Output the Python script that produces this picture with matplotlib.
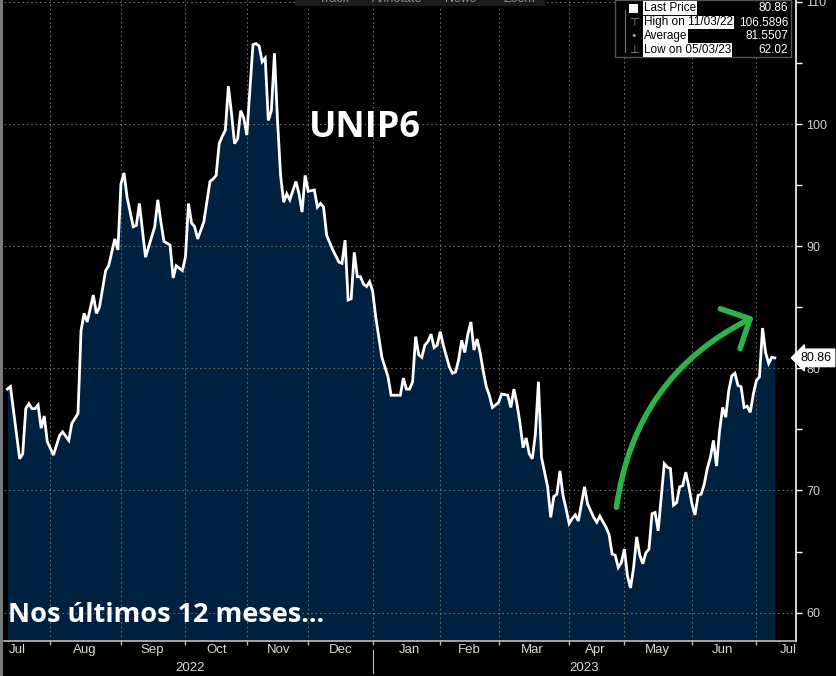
import matplotlib
matplotlib.use('Agg')
import matplotlib.pyplot as plt
from matplotlib.patches import FancyArrowPatch, Rectangle
from matplotlib.lines import Line2D

# UNIP6 daily closes, x = trading-session index (0 = first session shown)
day = [0, 1, 4, 5, 6, 7, 8, 9, 10, 11, 12, 13, 15, 17, 18, 20, 21, 23, 24, 25,
       26, 28, 29, 30, 32, 33, 35, 36, 37, 38, 39, 41, 42, 43, 45, 48, 49, 50,
       51, 53, 54, 55, 56, 57, 58, 59, 60, 61, 62, 64, 66, 67, 68, 69, 70, 71,
       72, 73, 74, 75, 76, 77, 78, 80, 81, 82, 83, 84, 85, 86, 87, 88, 89, 90,
       91, 92, 94, 95, 96, 97, 98, 100, 101, 102, 103, 104, 106, 108, 109, 110,
       111, 112, 113, 114, 115, 116, 117, 118, 119, 120, 122, 124, 125, 126,
       128, 129, 130, 131, 132, 133, 134, 135, 136, 137, 138, 139, 140, 141,
       142, 144, 145, 146, 147, 148, 149, 150, 151, 152, 153, 154, 155, 156,
       157, 158, 160, 161, 163, 164, 165, 166, 167, 168, 169, 170, 171, 172,
       173, 174, 176, 177, 178, 179, 180, 181, 182, 183, 184, 185, 186, 188,
       189, 191, 192, 193, 195, 196, 197, 198, 199, 200, 201, 202, 203, 204,
       205, 206, 207, 208, 209, 210, 211, 212, 213, 214, 215, 216, 217, 218,
       219, 220, 221, 222, 223, 224, 225, 226, 227, 228, 229, 230, 231, 232,
       233, 234, 235, 236, 237, 238, 239, 240, 241, 242, 243, 244, 245, 246,
       247, 248, 249, 250]
price = [78.3, 78.5, 72.6, 73.0, 76.7, 77.1, 76.7, 76.7, 77.0, 75.1, 76.1, 74.0,
         72.9, 74.5, 74.8, 74.1, 75.5, 76.3, 83.1, 84.5, 83.8, 86.0, 84.5, 85.0,
         88.0, 88.4, 90.6, 89.7, 95.1, 96.0, 94.0, 91.6, 91.7, 93.5, 89.1, 91.6,
         93.8, 92.0, 90.4, 90.1, 87.4, 88.4, 88.2, 88.0, 89.1, 93.5, 91.9, 91.6,
         90.6, 92.0, 95.3, 95.5, 95.8, 98.4, 99.0, 99.5, 103.1, 100.9, 98.4, 98.8,
         101.1, 100.5, 99.1, 106.5, 106.59, 106.4, 105.1, 105.4, 100.3, 101.1,
         105.8, 100.3, 95.8, 93.6, 94.3, 93.8, 95.3, 94.3, 92.8, 95.8, 94.5, 94.6,
         93.2, 93.5, 93.2, 90.9, 89.7, 88.7, 88.6, 90.5, 85.6, 85.7, 89.5, 87.5,
         87.5, 86.9, 86.7, 87.1, 86.3, 84.2, 80.9, 79.3, 77.8, 77.8, 77.8, 79.2,
         78.3, 78.3, 78.9, 82.6, 81.1, 80.9, 81.9, 82.2, 82.8, 81.7, 81.9, 83.0,
         81.9, 80.1, 79.6, 79.7, 80.7, 82.3, 81.3, 82.8, 83.8, 81.5, 82.4, 81.3,
         79.8, 78.5, 77.8, 76.8, 77.2, 77.9, 77.8, 76.8, 78.3, 77.1, 75.5, 73.5,
         74.3, 73.0, 72.6, 74.6, 78.9, 72.7, 70.3, 67.8, 69.5, 69.7, 71.6, 69.6,
         68.5, 67.3, 67.7, 68.0, 67.5, 70.3, 68.9, 67.8, 67.4, 67.9, 67.0, 66.4,
         64.8, 64.7, 63.7, 64.1, 65.2, 63.0, 62.02, 63.7, 66.2, 64.7, 64.0, 64.9,
         65.2, 68.1, 68.2, 66.7, 69.5, 72.2, 71.9, 71.8, 68.8, 69.0, 70.3, 70.4,
         71.5, 70.3, 68.9, 68.0, 69.6, 69.7, 70.5, 71.8, 72.7, 74.1, 72.0, 74.9,
         76.8, 76.0, 78.2, 79.4, 79.6, 78.6, 78.5, 76.8, 76.9, 76.4, 77.9, 79.0,
         79.3, 83.3, 81.3, 80.4, 80.9, 80.86]

month_starts = [14, 37, 58, 78, 98, 119, 141, 160, 183, 201, 223, 244]
month_names = ['Jul', 'Aug', 'Sep', 'Oct', 'Nov', 'Dec', 'Jan', 'Feb', 'Mar',
               'Apr', 'May', 'Jun', 'Jul']
month_label_pos = [3.2, 25.3, 47.1, 68.3, 88.2, 108.7, 131, 150.4, 170.9,
                   191.4, 211.6, 233.1, 254.3]
years = ['2022', '2023']
year_label_pos = [59.6, 187.8]

legend_labels = ['Last Price', 'High on 11/03/22', 'Average', 'Low on 05/03/23']
legend_values = ['80.86', '106.5896', '81.5507', '62.02']

W, H = 837, 676
def fx(px):
    return px / W
def fy(py):
    return 1 - py / H

fig = plt.figure(figsize=(W / 100, H / 100), dpi=100, facecolor='black')
ax = fig.add_axes([fx(4), fy(640.7), fx(792), 640.7 / H])
ax.set_facecolor('black')

ymin, ymax = 57.7, 110.16
ax.set_xlim(-1.1, 256.9)
ax.set_ylim(ymin, ymax)

ax.fill_between(day, price, ymin, color='#00203f', zorder=1, lw=0)
ax.plot(day, price, color='white', lw=2.0, zorder=4, solid_joinstyle='miter')

# grid
for y in range(60, 111, 10):
    ax.axhline(y, color='#6a6a6a', lw=0.8, ls=(0, (1.5, 2.5)), zorder=2)
for m in month_starts:
    ax.axvline(m, color='#6a6a6a', lw=0.8, ls=(0, (1.5, 2.5)), zorder=2)

# spines / ticks
for s in ['top', 'left']:
    ax.spines[s].set_visible(False)
ax.spines['right'].set_color('white')
ax.spines['right'].set_linewidth(1.2)
ax.spines['bottom'].set_color('#bdbdbd')
ax.spines['bottom'].set_linewidth(1.2)
ax.yaxis.tick_right()
ax.set_yticks(range(60, 111, 10))
ax.set_yticks(range(65, 111, 10), minor=True)
ax.tick_params(axis='y', which='both', colors='white', labelcolor='#d0d0d0',
               labelsize=9, direction='out', length=4, width=1)
for t in ax.get_yticklabels():
    t.set_fontfamily('Liberation Sans')

ax.set_xticks(month_starts)
ax.set_xticklabels([])
ax.tick_params(axis='x', which='major', colors='#bdbdbd', direction='out',
               length=3, width=1)
for name, pos in zip(month_names, month_label_pos):
    ax.text(pos, -0.005, name, transform=ax.get_xaxis_transform(), ha='center',
            va='top', color='#d8d8d8', fontsize=9.5, family='Liberation Sans',
            clip_on=False)
for name, pos in zip(years, year_label_pos):
    ax.text(pos, -0.033, name, transform=ax.get_xaxis_transform(), ha='center',
            va='top', color='#d8d8d8', fontsize=9.5, family='Liberation Sans',
            clip_on=False)
ax.add_line(Line2D([month_starts[5]] * 2, [-0.015, -0.05],
                   transform=ax.get_xaxis_transform(), color='#bdbdbd', lw=0.8,
                   clip_on=False))

# last price flag
ax.annotate(legend_values[0], xy=(1.0, price[-1]),
            xycoords=('axes fraction', 'data'), xytext=(3.5, 0),
            textcoords='offset points', ha='left', va='center', color='black',
            fontsize=9, family='Liberation Sans', zorder=10,
            bbox=dict(boxstyle='larrow,pad=0.22', fc='white', ec='white'),
            annotation_clip=False)

# titles
ax.text(0.385, 0.80, 'UNIP6', transform=ax.transAxes, color='white',
        fontsize=26, fontweight='bold', family='Open Sans', ha='left',
        va='center', zorder=6)
fig.text(fx(8), fy(615), 'Nos últimos 12 meses...', color='white',
         fontsize=19.5, fontweight='bold', family='Open Sans', ha='left',
         va='center', zorder=6)

# green hand-drawn arrow
arrow = FancyArrowPatch((198.3, 68.4), (243.9, 84.3),
                        connectionstyle='arc3,rad=-0.27',
                        arrowstyle='->,head_length=0.8,head_width=0.8',
                        mutation_scale=20, color='#2db34a', lw=4,
                        capstyle='round', zorder=7)
ax.add_patch(arrow)

# left grey strip
fig.patches.append(Rectangle((0, 0), fx(3.5), 1, transform=fig.transFigure,
                             fc='#7a7a7a', ec='none'))

# toolbar at the top (cut off, as in the source screenshot)
fig.patches.append(Rectangle((fx(295), fy(6)), fx(250), fx(10), transform=fig.transFigure,
                             fc='#1c1c1c', ec='none', zorder=0))
for txt, px in [('Track', 334), ('Annotate', 397), ('News', 461), ('Zoom', 519)]:
    fig.text(fx(px), fy(-1), txt, color='#8c8c8c', fontsize=9,
             family='Liberation Sans', ha='center', va='center')

# legend box
fig.patches.append(Rectangle((fx(615), fy(57)), fx(176), 57 / H,
                             transform=fig.transFigure, fc='black',
                             ec='#555555', lw=1, zorder=8))
fig.lines.append(Line2D([fx(625), fx(625)], [fy(10), fy(52)],
                        transform=fig.transFigure, color='#777777', lw=0.8,
                        zorder=9))
row_y = [8.3, 22.5, 36.2, 50]
icons = ['', '⊤', '•', '⊥']
for i, (lab, val) in enumerate(zip(legend_labels, legend_values)):
    y = fy(row_y[i])
    if i == 0:
        fig.patches.append(Rectangle((fx(629), fy(row_y[i] + 5)), fx(9), 9 / H,
                                     transform=fig.transFigure, fc='white',
                                     ec='none', zorder=9))
    else:
        fig.text(fx(634), y, icons[i], color='#9a9a9a', fontsize=8,
                 ha='center', va='center', zorder=9)
    fig.text(fx(644), y, lab, color='black', fontsize=8.5,
             family='Liberation Sans', ha='left', va='center', zorder=9,
             bbox=dict(fc='white', ec='none', pad=0.6))
    fig.text(fx(788), y, val, color='white', fontsize=8.5,
             family='Liberation Sans', ha='right', va='center', zorder=9)

fig.savefig('out.png', dpi=100, facecolor='black')
